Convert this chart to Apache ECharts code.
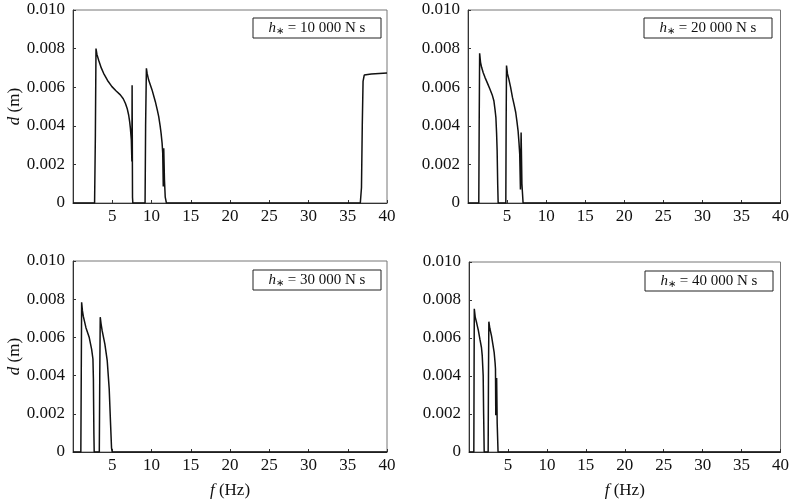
<!DOCTYPE html>
<html><head><meta charset="utf-8">
<script src="https://cdn.jsdelivr.net/npm/echarts@6/dist/echarts.min.js"></script>
<style>html,body{margin:0;padding:0;background:#fff}#c{width:792px;height:500px}</style>
</head><body><div id="c"></div>
<script>
// f (Hz), d (m)
const h10000 = [[0,0],[2.75,0],[2.85,0.0035],[2.93,0.0080],[3.05,0.0077],[3.27,0.0074],[3.6,0.0070],[3.9,0.00672],[4.4,0.00635],[4.96,0.00603],[5.5,0.0058],[6.03,0.0056],[6.4,0.0054],[6.67,0.00517],[6.9,0.0049],[7.09,0.00456],[7.22,0.0042],[7.31,0.00388],[7.43,0.00327],[7.5,0.00215],[7.53,0.0061],[7.58,0.0003],[7.62,0],[9.18,0],[9.25,0.004],[9.35,0.00698],[9.45,0.0067],[9.64,0.00637],[10.07,0.00586],[10.49,0.00525],[10.75,0.0048],[10.92,0.00448],[11.1,0.004],[11.22,0.00362],[11.35,0.0031],[11.43,0.00258],[11.5,0.00086],[11.56,0.00284],[11.65,0.0012],[11.75,0.0003],[11.9,0],[36.6,0],[36.75,0.0008],[36.85,0.004],[36.95,0.0063],[37.1,0.00663],[38,0.00668],[39,0.00671],[40,0.00673]];
const h20000 = [[0,0],[1.38,0],[1.43,0.004],[1.49,0.00776],[1.6,0.0073],[1.74,0.00703],[1.95,0.00675],[2.17,0.00651],[2.5,0.0062],[2.8,0.00591],[3.1,0.0056],[3.31,0.0053],[3.47,0.0048],[3.57,0.00443],[3.66,0.0036],[3.73,0.0027],[3.8,0.0010],[3.86,0],[4.84,0],[4.88,0.004],[4.93,0.00712],[5.05,0.0067],[5.22,0.00643],[5.45,0.0060],[5.69,0.00547],[5.9,0.0051],[6.11,0.00469],[6.27,0.0042],[6.41,0.00374],[6.53,0.0031],[6.62,0.00253],[6.71,0.0007],[6.8,0.00365],[6.9,0.0010],[7.05,0],[40,0]];
const h30000 = [[0,0],[1.0,0],[1.05,0.004],[1.1,0.00784],[1.2,0.0074],[1.31,0.00711],[1.65,0.00651],[2.07,0.00599],[2.37,0.00539],[2.54,0.00487],[2.6,0.0038],[2.62,0.0028],[2.66,0.001],[2.7,0],[3.35,0],[3.41,0.004],[3.47,0.00706],[3.58,0.0067],[3.72,0.00634],[4.06,0.00565],[4.36,0.00478],[4.61,0.00332],[4.79,0.00142],[4.91,0.0002],[5.0,0],[40,0]];
const h40000 = [[0,0],[0.62,0],[0.65,0.004],[0.68,0.00754],[0.8,0.0071],[0.98,0.0068],[1.2,0.0064],[1.4,0.00594],[1.6,0.0055],[1.7,0.00507],[1.82,0.00403],[1.88,0.002],[1.95,0],[2.46,0],[2.5,0.004],[2.55,0.00686],[2.68,0.0065],[2.89,0.00611],[3.05,0.0057],[3.23,0.00524],[3.35,0.0047],[3.4,0.00438],[3.44,0.00194],[3.55,0.00389],[3.62,0.0015],[3.73,0],[40,0]];
const panelData = [h10000, h20000, h30000, h40000];
const panelLabels = ['10 000', '20 000', '30 000', '40 000'];
const xTicks = [0, 40, 5];      // min, max, interval
const yTicks = [0, 0.010, 0.002];

const FONT = '"Liberation Serif", "Times New Roman", serif';
const grids = [
  {left: 73, top: 10, width: 314, height: 193},
  {left: 468, top: 10, width: 314, height: 193},
  {left: 73, top: 261, width: 314, height: 193},
  {left: 469, top: 262, width: 314, height: 192}
];
const boxes = [
  {x: 253, y: 18}, {x: 644, y: 18}, {x: 253, y: 270}, {x: 645, y: 271}
];
const axisCol = '#333';
const option = {
  animation: false,
  backgroundColor: '#fff',
  grid: grids.map(g => Object.assign({show: true, borderColor: '#777', borderWidth: 1, backgroundColor: 'transparent'}, g)),
  xAxis: grids.map((g, i) => ({
    type: 'value', gridIndex: i, min: xTicks[0], max: xTicks[1], interval: xTicks[2],
    axisLine: {lineStyle: {color: axisCol, width: 1}},
    axisTick: {inside: true, length: 3, lineStyle: {color: axisCol}},
    splitLine: {show: false},
    axisLabel: {fontFamily: FONT, fontSize: 17, color: '#111', margin: 5, formatter: v => v === 0 ? '' : String(v)},
    name: i >= 2 ? '{i|f} (Hz)' : '', nameLocation: 'middle', nameGap: 30,
    nameTextStyle: {fontFamily: FONT, fontSize: 17, color: '#111', rich: {i: {fontFamily: FONT, fontSize: 17, fontStyle: 'italic', color: '#111'}}}
  })),
  yAxis: grids.map((g, i) => ({
    type: 'value', gridIndex: i, min: yTicks[0], max: yTicks[1], interval: yTicks[2],
    axisLine: {show: true, lineStyle: {color: axisCol, width: 1}},
    axisTick: {show: true, inside: true, length: 3, lineStyle: {color: axisCol}},
    splitLine: {show: false},
    axisLabel: {fontFamily: FONT, fontSize: 17, color: '#111', margin: 8, formatter: v => v === 0 ? '0' : v.toFixed(3)},
    name: (i % 2 === 0) ? '{i|d} (m)' : '', nameLocation: 'middle', nameGap: 50,
    nameTextStyle: {fontFamily: FONT, fontSize: 17, color: '#111', rich: {i: {fontFamily: FONT, fontSize: 17, fontStyle: 'italic', color: '#111'}}}
  })),
  series: panelData.map((d, i) => ({
    type: 'line', xAxisIndex: i, yAxisIndex: i, data: d, showSymbol: false, symbol: 'none',
    lineStyle: {color: '#111', width: 1.5}, clip: true
  })),
  graphic: boxes.map((b, i) => ({
    type: 'group', children: [
      {type: 'rect', shape: {x: b.x, y: b.y, width: 128, height: 20}, style: {fill: '#fff', stroke: '#222', lineWidth: 1}},
      {type: 'text', x: b.x + 64, y: b.y + 10, style: {
        text: '{h|h}{s|∗}{n| = ' + panelLabels[i] + ' N s}',
        align: 'center', verticalAlign: 'middle',
        rich: {
          h: {fontFamily: FONT, fontSize: 15, fontStyle: 'italic', fill: '#111'},
          s: {fontFamily: FONT, fontSize: 10, fill: '#111', padding: [6, 0, 0, 0]},
          n: {fontFamily: FONT, fontSize: 15, fill: '#111'}
        }
      }}
    ]
  }))
};
echarts.init(document.getElementById('c'), null, {renderer: 'canvas'}).setOption(option);
</script>
</body></html>
